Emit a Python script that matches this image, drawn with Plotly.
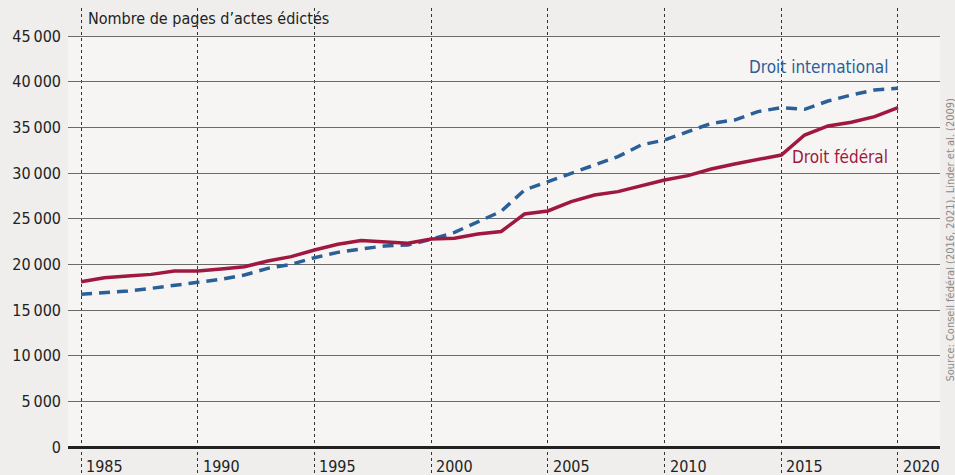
import plotly.graph_objects as go

years = list(range(1985, 2021))
federal = [18100, 18540, 18720, 18900, 19270, 19270, 19500, 19740, 20370, 20840,
           21570, 22190, 22600, 22450, 22300, 22770, 22850, 23320, 23600, 25510,
           25840, 26860, 27590, 27960, 28580, 29240, 29710, 30440, 30990, 31500,
           31970, 34160, 35150, 35550, 36170, 37150]
international = [16720, 16900, 17080, 17370, 17740, 18030, 18360, 18830, 19560, 20000,
                 20730, 21310, 21680, 22010, 22120, 22740, 23500, 24600, 25800, 28140,
                 29050, 29970, 30880, 31790, 33070, 33610, 34530, 35440, 35800, 36720,
                 37160, 36970, 37880, 38540, 39090, 39270]
year_ticks = [1985, 1990, 1995, 2000, 2005, 2010, 2015, 2020]
y_ticks = [0, 5000, 10000, 15000, 20000, 25000, 30000, 35000, 40000, 45000]
y_labels = ["0", "5\u2009000", "10\u2009000", "15\u2009000", "20\u2009000", "25\u2009000",
            "30\u2009000", "35\u2009000", "40\u2009000", "45\u2009000"]

FONT = "Liberation Sans Narrow, DejaVu Sans Condensed, sans-serif"
RED = "#a0183f"
BLUE = "#2b5f98"
PAPER = "#efeeec"

fig = go.Figure()
fig.add_trace(go.Scatter(x=years, y=international, mode="lines",
                         line=dict(color=BLUE, width=3.5, dash="11px,7px"),
                         hoverinfo="skip"))
fig.add_trace(go.Scatter(x=years, y=federal, mode="lines",
                         line=dict(color=RED, width=3.5), hoverinfo="skip"))

x0, x1 = 1984.44, 2021.8
fig.add_shape(type="rect", xref="x", yref="y", x0=x0, x1=x1, y0=0, y1=45000,
              fillcolor="#f6f5f3", line_width=0, layer="below")

for yr in year_ticks:
    fig.add_annotation(x=yr, y=-2100, xref="x", yref="y", text=str(yr),
                       showarrow=False, xanchor="left", yanchor="middle", xshift=3,
                       font=dict(family=FONT, size=16, color="#222"))

fig.add_annotation(x=1985, y=46900, xref="x", yref="y",
                   text="Nombre de pages d\u2019actes édictés",
                   showarrow=False, xanchor="left", yanchor="middle", xshift=5,
                   font=dict(family=FONT, size=16, color="#222"))
fig.add_annotation(x=2019.65, y=41600, xref="x", yref="y", text="Droit international",
                   showarrow=False, xanchor="right", yanchor="middle",
                   font=dict(family=FONT, size=17, color=BLUE))
fig.add_annotation(x=2019.65, y=31750, xref="x", yref="y", text="Droit fédéral",
                   showarrow=False, xanchor="right", yanchor="middle",
                   font=dict(family=FONT, size=17, color=RED))
fig.add_annotation(xref="paper", yref="paper", x=1.0, xanchor="left", xshift=1,
                   y=(475 - 240) / 467, yanchor="middle",
                   text="Source: Conseil fédéral (2016, 2021), Linder et al. (2009)",
                   showarrow=False, textangle=-90,
                   font=dict(family=FONT, size=11, color="#8a8a8a"))

fig.update_layout(
    width=955, height=475,
    margin=dict(l=68, r=15, t=8, b=0),
    paper_bgcolor=PAPER, plot_bgcolor=PAPER,
    showlegend=False,
    xaxis=dict(range=[x0, x1], tickvals=year_ticks, showticklabels=False,
               showgrid=True, gridcolor="#333", gridwidth=1, griddash="3px,3px",
               zeroline=False, showline=False, ticks=""),
    yaxis=dict(range=[-3066, 48066], tickvals=y_ticks, ticktext=y_labels,
               showgrid=True, gridcolor="#6a6a6a", gridwidth=1.2,
               zeroline=True, zerolinecolor="#222", zerolinewidth=3,
               showline=False, ticks="", ticklabelstandoff=6,
               tickfont=dict(family=FONT, size=16, color="#222")),
)

fig.write_html("out.html", config={"displayModeBar": False},
               post_script="document.body.style.margin='0';document.body.style.overflow='hidden';"
                           "document.body.style.background='" + PAPER + "';")
